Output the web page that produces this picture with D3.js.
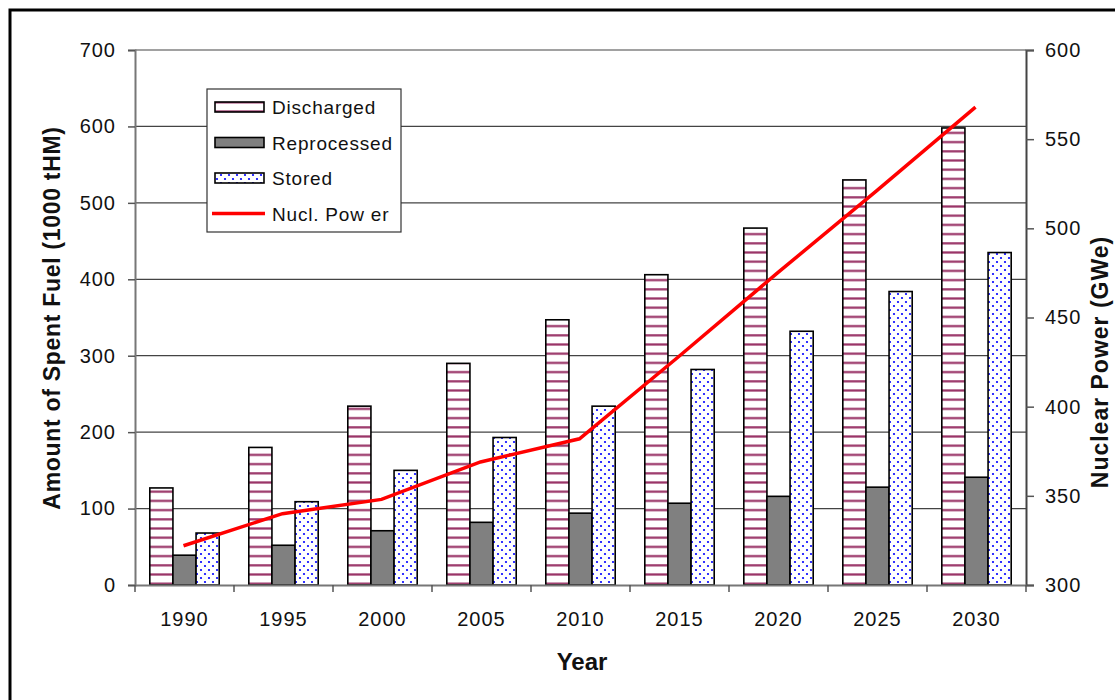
<!DOCTYPE html>
<html>
<head>
<meta charset="utf-8">
<script src="https://cdn.jsdelivr.net/npm/d3@7"></script>
<style>
  body { margin: 0; background: #fff; }
  text { font-family: "Liberation Sans", Arial, sans-serif; fill: #111; }
</style>
</head>
<body>
<svg id="chart" width="1115" height="700"></svg>
<script>
// values
const years = ["1990", "1995", "2000", "2005", "2010", "2015", "2020", "2025", "2030"];
const discharged = [127, 180, 234, 290, 347, 406, 467, 530, 598];
const reprocessed = [39, 52, 71, 82, 94, 107, 116, 128, 141];
const stored = [68, 109, 150, 193, 234, 282, 332, 384, 435];
const nuclPower = [322, 340, 348, 369, 382, 428, 475, 521, 568];

const seriesNames = ["Discharged", "Reprocessed", "Stored"];
const leftTicks = [0, 100, 200, 300, 400, 500, 600, 700];
const rightTicks = [300, 350, 400, 450, 500, 550, 600];

const svg = d3.select("#chart");
const margin = { top: 50, right: 89, bottom: 115, left: 135 };
const W = 1115, H = 700;

// outer frame (only left/top edges fall inside the picture)
svg.append("rect")
  .attr("x", 10).attr("y", 10)
  .attr("width", 1130).attr("height", 720)
  .attr("fill", "none").attr("stroke", "#000").attr("stroke-width", 3);

// patterns
const defs = svg.append("defs");
const stripe = defs.append("pattern")
  .attr("id", "stripes").attr("patternUnits", "userSpaceOnUse")
  .attr("width", 9).attr("height", 9.2);
stripe.append("rect").attr("width", 9).attr("height", 9.2).attr("fill", "#fff");
stripe.append("rect").attr("y", 3).attr("width", 9).attr("height", 2.2).attr("fill", "#993366");

const dots = defs.append("pattern")
  .attr("id", "dots").attr("patternUnits", "userSpaceOnUse")
  .attr("width", 8).attr("height", 8);
dots.append("rect").attr("width", 8).attr("height", 8).attr("fill", "#fff");
dots.append("circle").attr("cx", 2).attr("cy", 2).attr("r", 1.1).attr("fill", "#0000ff");
dots.append("circle").attr("cx", 6).attr("cy", 6).attr("r", 1.1).attr("fill", "#0000ff");

const fills = { Discharged: "url(#stripes)", Reprocessed: "#808080", Stored: "url(#dots)" };
const values = { Discharged: discharged, Reprocessed: reprocessed, Stored: stored };

// scales
const x0 = d3.scaleBand().domain(years).range([margin.left, W - margin.right]);
const x1 = d3.scaleBand().domain(seriesNames).range([0, x0.bandwidth()])
  .paddingInner(0).paddingOuter(0.64);
const y = d3.scaleLinear().domain([0, 700]).range([H - margin.bottom, margin.top]);
const y2 = d3.scaleLinear().domain([300, 600]).range([H - margin.bottom, margin.top]);

// gridlines
svg.append("g").selectAll("line")
  .data(leftTicks.slice(1))
  .join("line")
  .attr("x1", margin.left).attr("x2", W - margin.right)
  .attr("y1", d => y(d)).attr("y2", d => y(d))
  .attr("stroke", "#444").attr("stroke-width", 1.2);

// bars
const groups = svg.append("g").selectAll("g")
  .data(years)
  .join("g")
  .attr("transform", d => `translate(${x0(d)},0)`);

groups.selectAll("rect")
  .data((d, i) => seriesNames.map(s => ({ s, v: values[s][i] })))
  .join("rect")
  .attr("x", d => x1(d.s))
  .attr("y", d => y(d.v))
  .attr("width", x1.bandwidth())
  .attr("height", d => y(0) - y(d.v))
  .attr("fill", d => fills[d.s])
  .attr("stroke", "#000").attr("stroke-width", 1.6);

// axes
const axL = svg.append("g")
  .attr("transform", `translate(${margin.left},0)`)
  .call(d3.axisLeft(y).tickValues(leftTicks).tickSize(7).tickPadding(12));
const axR = svg.append("g")
  .attr("transform", `translate(${W - margin.right},0)`)
  .call(d3.axisRight(y2).tickValues(rightTicks).tickSize(8).tickPadding(11));
const axB = svg.append("g")
  .attr("transform", `translate(0,${H - margin.bottom})`)
  .call(d3.axisBottom(x0).tickSize(0).tickPadding(27));

[axL, axR, axB].forEach(a => {
  a.select(".domain").attr("stroke", "#777").attr("stroke-width", 2);
  a.selectAll(".tick line").attr("stroke", "#555").attr("stroke-width", 1.5);
  a.selectAll(".tick text").style("font-size", "20px").style("letter-spacing", "1px")
    .style("font-family", "'Liberation Sans', Arial, sans-serif").attr("fill", "#111");
});
axR.select(".domain").attr("stroke", "#444");

// category boundary ticks on x axis
svg.append("g").selectAll("line")
  .data(years.concat(["end"]))
  .join("line")
  .attr("x1", d => d === "end" ? W - margin.right : x0(d))
  .attr("x2", d => d === "end" ? W - margin.right : x0(d))
  .attr("y1", H - margin.bottom).attr("y2", H - margin.bottom + 7)
  .attr("stroke", "#555").attr("stroke-width", 1.5);

// nuclear power line
const line = d3.line()
  .x((d, i) => x0(years[i]) + x0.bandwidth() / 2 - 1)
  .y(d => y2(d));
svg.append("path")
  .datum(nuclPower)
  .attr("d", line)
  .attr("fill", "none").attr("stroke", "#ff0000").attr("stroke-width", 3.5);

// axis titles
svg.append("text")
  .attr("transform", `translate(60,318) rotate(-90)`)
  .attr("text-anchor", "middle")
  .style("font-size", "23px").style("font-weight", "bold").style("letter-spacing", "0.7px")
  .text("Amount of Spent Fuel (1000 tHM)");
svg.append("text")
  .attr("transform", `translate(1108,362) rotate(-90)`)
  .attr("text-anchor", "middle")
  .style("font-size", "23px").style("font-weight", "bold").style("letter-spacing", "1px")
  .text("Nuclear Power (GWe)");
svg.append("text")
  .attr("x", 582).attr("y", 670)
  .attr("text-anchor", "middle")
  .style("font-size", "24px").style("font-weight", "bold")
  .text("Year");

// legend
const legend = svg.append("g").attr("transform", "translate(207,89)");
legend.append("rect")
  .attr("width", 194).attr("height", 143)
  .attr("fill", "#fff").attr("stroke", "#333").attr("stroke-width", 1.2);
const legendItems = seriesNames.concat(["Nucl. Pow er"]);
legendItems.forEach((name, i) => {
  const cy = 18 + i * 35.5;
  if (i < 3) {
    legend.append("rect")
      .attr("x", 8).attr("y", cy - 5).attr("width", 49).attr("height", 10)
      .attr("fill", fills[name]).attr("stroke", "#000").attr("stroke-width", 1.6);
  } else {
    legend.append("line")
      .attr("x1", 5).attr("x2", 58).attr("y1", cy).attr("y2", cy)
      .attr("stroke", "#ff0000").attr("stroke-width", 3.5);
  }
  legend.append("text")
    .attr("x", 65).attr("y", cy + 7)
    .style("font-size", "19px").style("letter-spacing", "0.8px")
    .text(name);
});
</script>
</body>
</html>
